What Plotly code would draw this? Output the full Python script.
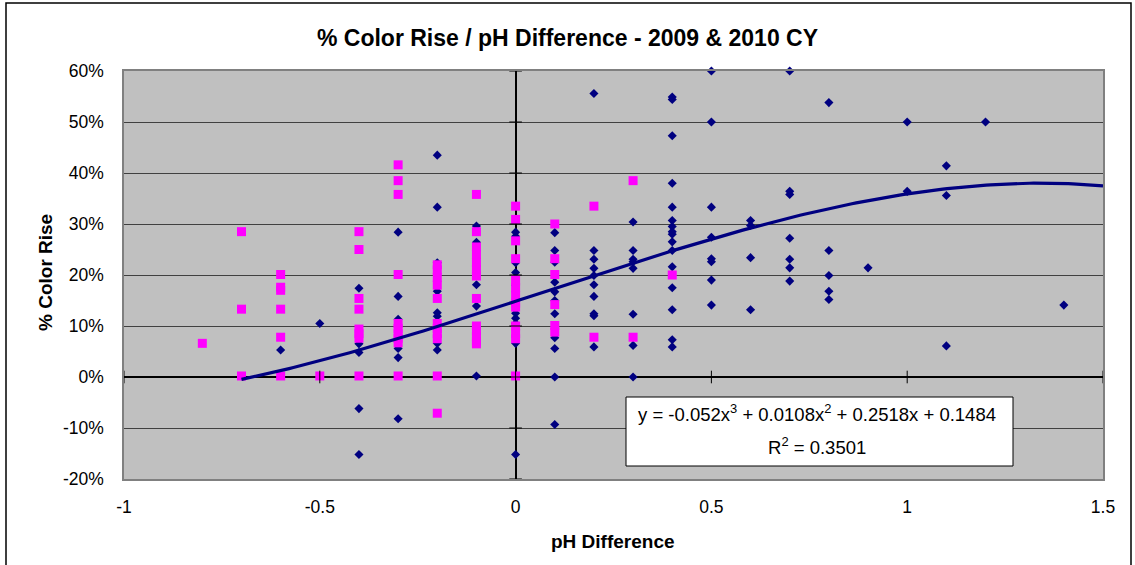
import numpy as np
import plotly.graph_objects as go

# ---- data ----
# Series A (navy diamonds)
navy_x = ([-0.6] + [-0.5] + [-0.4]*5 + [-0.3]*6 + [-0.2]*8 + [-0.1]*5 + [0.0]*10 +
          [0.1]*11 + [0.2]*10 + [0.3]*8 + [0.4]*16 + [0.5]*8 + [0.6]*4 + [0.7]*7 +
          [0.8]*5 + [0.9] + [1.0]*2 + [1.1]*3 + [1.2] + [1.4])
navy_y = [0.053,
          0.105,
          0.174, 0.065, 0.048, -0.062, -0.152,
          0.284, 0.158, 0.113, 0.056, 0.038, -0.082,
          0.435, 0.333, 0.224, 0.168, 0.126, 0.119, 0.066, 0.053,
          0.296, 0.264, 0.181, 0.139, 0.002,
          0.284, 0.276, 0.224, 0.205, 0.180, 0.125, 0.115, 0.105, 0.066, -0.152,
          0.283, 0.248, 0.225, 0.186, 0.167, 0.150, 0.124, 0.077, 0.056, 0.000, -0.093,
          0.556, 0.248, 0.231, 0.213, 0.199, 0.181, 0.158, 0.124, 0.120, 0.059,
          0.304, 0.248, 0.231, 0.226, 0.213, 0.123, 0.062, 0.000,
          0.549, 0.544, 0.473, 0.380, 0.333, 0.307, 0.295, 0.285, 0.280, 0.265, 0.248,
          0.216, 0.175, 0.132, 0.073, 0.059,
          0.600, 0.500, 0.333, 0.274, 0.232, 0.226, 0.190, 0.141,
          0.307, 0.297, 0.234, 0.132,
          0.600, 0.364, 0.358, 0.272, 0.231, 0.214, 0.188,
          0.538, 0.248, 0.199, 0.168, 0.152,
          0.214,
          0.500, 0.364,
          0.414, 0.356, 0.061,
          0.500,
          0.141]

# Series B (magenta squares)
mag_x = ([-0.8] + [-0.7]*3 + [-0.6]*6 + [-0.5] + [-0.4]*8 + [-0.3]*10 + [-0.2]*11 +
         [-0.1]*13 + [0.0]*13 + [0.1]*6 + [0.2]*2 + [0.3]*2 + [0.4])
mag_y = [0.066,
         0.285, 0.133, 0.002,
         0.201, 0.176, 0.170, 0.133, 0.078, 0.002,
         0.002,
         0.285, 0.250, 0.154, 0.133, 0.094, 0.085, 0.076, 0.002,
         0.416, 0.385, 0.358, 0.201, 0.105, 0.095, 0.085, 0.076, 0.067, 0.002,
         0.220, 0.210, 0.195, 0.180, 0.154, 0.105, 0.095, 0.085, 0.075, 0.002, -0.071,
         0.358, 0.285, 0.255, 0.240, 0.225, 0.210, 0.198, 0.154, 0.100, 0.090, 0.080, 0.070, 0.065,
         0.335, 0.309, 0.267, 0.232, 0.190, 0.175, 0.160, 0.145, 0.137, 0.100, 0.085, 0.075, 0.002,
         0.300, 0.232, 0.201, 0.142, 0.101, 0.088,
         0.335, 0.078,
         0.385, 0.078,
         0.200]

# Polynomial trendline as shown on the chart
trend_coeffs = [-0.052, 0.0108, 0.2518, 0.1484]
trend_range = [-0.7, 1.5]
equation_line1 = "y = -0.052x<sup>3</sup> + 0.0108x<sup>2</sup> + 0.2518x + 0.1484"
equation_line2 = "R<sup>2</sup> = 0.3501"

x_ticks = [-1, -0.5, 0, 0.5, 1, 1.5]
x_tick_labels = ["-1", "-0.5", "0", "0.5", "1", "1.5"]
y_ticks = [-0.2, -0.1, 0, 0.1, 0.2, 0.3, 0.4, 0.5, 0.6]
y_tick_labels = ["-20%", "-10%", "0%", "10%", "20%", "30%", "40%", "50%", "60%"]

# ---- figure ----
W, H = 1135, 565
L, R, T, B = 124, 32, 71, 86
pw, ph = W - L - R, H - T - B

def px2paper_x(px):
    return (px - L) / pw

def px2paper_y(py):
    return (H - B - py) / ph

FONT = "Liberation Sans, Arial, sans-serif"

tx = np.linspace(trend_range[0], trend_range[1], 200)
ty = np.polyval(trend_coeffs, tx)

fig = go.Figure()
fig.add_trace(go.Scatter(x=navy_x, y=navy_y, mode="markers",
                         marker=dict(symbol="diamond", size=7, color="#000080"),
                         cliponaxis=False, showlegend=False))
fig.add_trace(go.Scatter(x=mag_x, y=mag_y, mode="markers",
                         marker=dict(symbol="square", size=9, color="#FF00FF"),
                         cliponaxis=False, showlegend=False))
fig.add_trace(go.Scatter(x=tx, y=ty, mode="lines",
                         line=dict(color="#000080", width=3.2),
                         showlegend=False, hoverinfo="skip"))
# tick marks on the crossing axes
fig.add_trace(go.Scatter(x=x_ticks, y=[0]*len(x_ticks), mode="markers",
                         marker=dict(symbol="line-ns-open", size=9, color="black",
                                     line=dict(color="black", width=1)),
                         showlegend=False, hoverinfo="skip", cliponaxis=False))
fig.add_trace(go.Scatter(x=[0]*len(y_ticks), y=y_ticks, mode="markers",
                         marker=dict(symbol="line-ew-open", size=9, color="black",
                                     line=dict(color="black", width=1)),
                         showlegend=False, hoverinfo="skip", cliponaxis=False))

fig.update_layout(
    width=W, height=H,
    margin=dict(l=L, r=R, t=T, b=B),
    paper_bgcolor="white",
    plot_bgcolor="#C0C0C0",
    font=dict(family=FONT, size=17, color="black"),
    title=dict(text="<b>% Color Rise / pH Difference - 2009 & 2010 CY</b>",
               x=0.5, xref="container", xanchor="center",
               y=1 - 38 / H, yref="container", yanchor="middle",
               font=dict(family=FONT, size=23, color="black")),
    xaxis=dict(range=[-1, 1.5], tickvals=x_ticks, ticktext=x_tick_labels,
               showgrid=False, zeroline=True, zerolinecolor="black", zerolinewidth=1.5,
               showline=True, linecolor="#808080", linewidth=1.5, mirror=True,
               ticks="", ticklabelstandoff=11,
               tickfont=dict(family=FONT, size=17.5)),
    yaxis=dict(range=[-0.2, 0.6], tickvals=y_ticks, ticktext=y_tick_labels,
               showgrid=True, gridcolor="#404040", gridwidth=1,
               zeroline=True, zerolinecolor="black", zerolinewidth=1.5,
               showline=True, linecolor="#808080", linewidth=1.5, mirror=True,
               ticks="", ticklabelstandoff=15,
               tickfont=dict(family=FONT, size=17.5)),
)

# axis titles
fig.add_annotation(xref="paper", yref="paper", x=px2paper_x(613), y=px2paper_y(541),
                   text="<b>pH Difference</b>", showarrow=False,
                   xanchor="center", yanchor="middle",
                   font=dict(family=FONT, size=19, color="black"))
fig.add_annotation(xref="paper", yref="paper", x=px2paper_x(45), y=px2paper_y(273),
                   text="<b>% Color Rise</b>", showarrow=False, textangle=-90,
                   xanchor="center", yanchor="middle",
                   font=dict(family=FONT, size=19, color="black"))

# equation box
fig.add_shape(type="rect", xref="paper", yref="paper",
              x0=px2paper_x(626), x1=px2paper_x(1013),
              y0=px2paper_y(466), y1=px2paper_y(397),
              fillcolor="white", line=dict(color="black", width=1), layer="above")
fig.add_annotation(xref="paper", yref="paper",
                   x=px2paper_x(817), y=px2paper_y(413),
                   text=equation_line1, showarrow=False, align="center",
                   xanchor="center", yanchor="middle",
                   font=dict(family=FONT, size=18.5, color="black"))
fig.add_annotation(xref="paper", yref="paper",
                   x=px2paper_x(817), y=px2paper_y(446),
                   text=equation_line2, showarrow=False, align="center",
                   xanchor="center", yanchor="middle",
                   font=dict(family=FONT, size=18.5, color="black"))

# chart border
fig.add_shape(type="rect", xref="paper", yref="paper",
              x0=px2paper_x(6), x1=px2paper_x(1131),
              y0=px2paper_y(575), y1=px2paper_y(3),
              fillcolor="rgba(0,0,0,0)", line=dict(color="black", width=1.5), layer="above")

fig.write_html("out.html")
